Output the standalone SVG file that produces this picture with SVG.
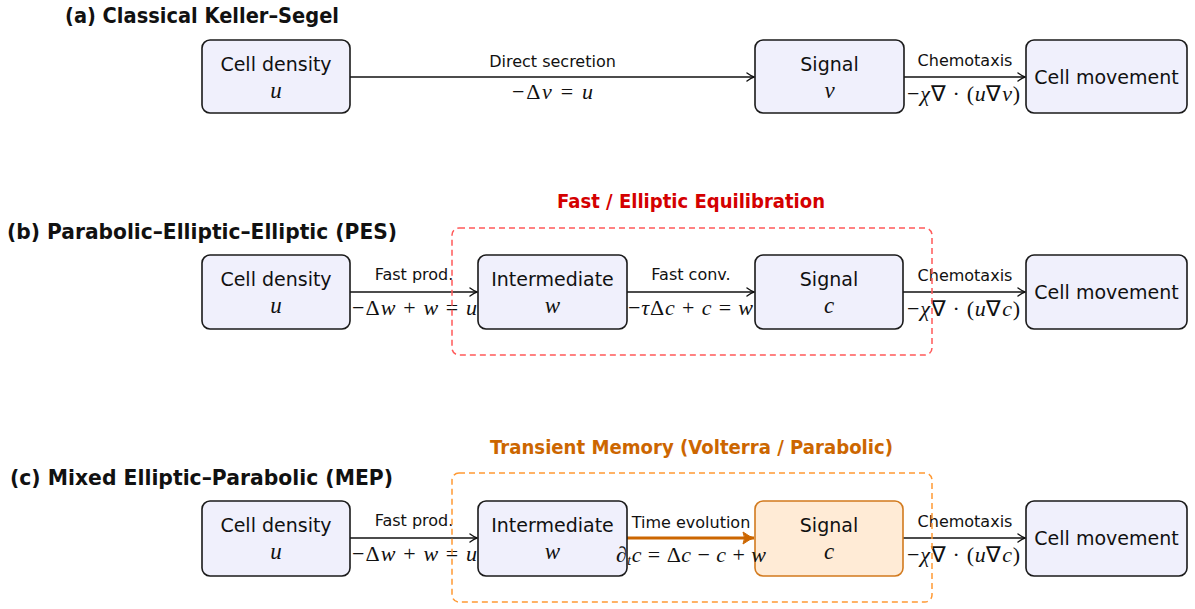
<svg xmlns="http://www.w3.org/2000/svg" width="1195" height="609" viewBox="0 0 1195 609">
<defs>
<style>
.box{fill:#f0f0fc;stroke:#1a1a1a;stroke-width:1.6}
.obox{fill:#ffebd6;stroke:#d27a1e;stroke-width:1.6}
.nt{font-family:"DejaVu Sans",sans-serif;font-size:19px;fill:#111;text-anchor:middle}
.el{font-family:"DejaVu Sans",sans-serif;font-size:16px;fill:#111;text-anchor:middle}
.m{font-family:"Liberation Serif",serif;font-size:22px;fill:#111;text-anchor:middle}
.i{font-style:italic}
.ti{font-family:"DejaVu Sans",sans-serif;font-size:21.5px;font-weight:bold;fill:#111}
.edge{stroke:#111;stroke-width:1.5;fill:none}
.oedge{stroke:#cc6600;stroke-width:3;fill:none}
</style>
<marker id="ah" markerUnits="userSpaceOnUse" markerWidth="12" markerHeight="12" viewBox="-10 -6 12 12" refX="0" refY="0" orient="auto">
<path d="M-7,-4 Q-2.5,-0.8 0,0 Q-2.5,0.8 -7,4" fill="none" stroke="#111" stroke-width="1.4" stroke-linecap="round"/>
</marker>
<marker id="oah" markerUnits="userSpaceOnUse" markerWidth="16" markerHeight="16" viewBox="-14 -8 16 16" refX="0" refY="0" orient="auto">
<path d="M-11,-6 Q-4,-1 0,0 Q-4,1 -11,6 Q-8,0 -11,-6 Z" fill="#cc6600" stroke="#cc6600" stroke-width="1"/>
</marker>
</defs>
<rect width="1195" height="609" fill="#ffffff"/>

<!-- titles -->
<text class="ti" x="65" y="23" textLength="274" lengthAdjust="spacingAndGlyphs">(a) Classical Keller–Segel</text>
<text class="ti" x="7" y="239" textLength="390" lengthAdjust="spacingAndGlyphs">(b) Parabolic–Elliptic–Elliptic (PES)</text>
<text class="ti" x="10" y="485" textLength="383" lengthAdjust="spacingAndGlyphs">(c) Mixed Elliptic–Parabolic (MEP)</text>
<text class="ti" x="557" y="208" textLength="268" lengthAdjust="spacingAndGlyphs" style="fill:#d40000;font-size:19px">Fast / Elliptic Equilibration</text>
<text class="ti" x="490" y="454" textLength="403" lengthAdjust="spacingAndGlyphs" style="fill:#cc6600;font-size:19px">Transient Memory (Volterra / Parabolic)</text>

<!-- connectors -->
<g id="connectors">
<line class="edge" x1="350" y1="77" x2="754" y2="77" marker-end="url(#ah)"/>
<line class="edge" x1="904" y1="77" x2="1025" y2="77" marker-end="url(#ah)"/>
<line class="edge" x1="350" y1="292" x2="477" y2="292" marker-end="url(#ah)"/>
<line class="edge" x1="627" y1="292" x2="754" y2="292" marker-end="url(#ah)"/>
<line class="edge" x1="903" y1="292" x2="1025" y2="292" marker-end="url(#ah)"/>
<line class="edge" x1="350" y1="538" x2="477" y2="538" marker-end="url(#ah)"/>
<line class="oedge" x1="627" y1="538" x2="754" y2="538" marker-end="url(#oah)"/>
<line class="edge" x1="903" y1="538" x2="1025" y2="538" marker-end="url(#ah)"/>
</g>

<!-- row a -->
<g id="a-cell">
<rect class="box" x="202" y="40" width="148" height="73" rx="8"/>
<text class="nt" x="276" y="71">Cell density</text>
<text class="m i" x="276" y="98" style="font-size:23px">u</text>
</g>
<g id="a-signal">
<rect class="box" x="755" y="40" width="149" height="73" rx="8"/>
<text class="nt" x="829.5" y="71">Signal</text>
<text class="m i" x="829.5" y="98" style="font-size:23px">v</text>
</g>
<g id="a-move">
<rect class="box" x="1026" y="40" width="161" height="73" rx="8"/>
<text class="nt" x="1106.5" y="84">Cell movement</text>
</g>

<!-- row b -->
<g id="b-cell">
<rect class="box" x="202" y="255" width="148" height="74" rx="8"/>
<text class="nt" x="276" y="286">Cell density</text>
<text class="m i" x="276" y="313" style="font-size:23px">u</text>
</g>
<g id="b-inter">
<rect class="box" x="478" y="255" width="149" height="74" rx="8"/>
<text class="nt" x="552.5" y="286">Intermediate</text>
<text class="m i" x="552.5" y="313" style="font-size:23px">w</text>
</g>
<g id="b-signal">
<rect class="box" x="755" y="255" width="148" height="74" rx="8"/>
<text class="nt" x="829" y="286">Signal</text>
<text class="m i" x="829" y="313" style="font-size:23px">c</text>
</g>
<g id="b-move">
<rect class="box" x="1026" y="255" width="161" height="74" rx="8"/>
<text class="nt" x="1106.5" y="299">Cell movement</text>
</g>

<!-- row c -->
<g id="c-cell">
<rect class="box" x="202" y="501" width="148" height="75" rx="8"/>
<text class="nt" x="276" y="532">Cell density</text>
<text class="m i" x="276" y="559" style="font-size:23px">u</text>
</g>
<g id="c-inter">
<rect class="box" x="478" y="501" width="149" height="75" rx="8"/>
<text class="nt" x="552.5" y="532">Intermediate</text>
<text class="m i" x="552.5" y="559" style="font-size:23px">w</text>
</g>
<g id="c-signal">
<rect class="obox" x="755" y="501" width="148" height="75" rx="8"/>
<text class="nt" x="829" y="532">Signal</text>
<text class="m i" x="829" y="559" style="font-size:23px">c</text>
</g>
<g id="c-move">
<rect class="box" x="1026" y="501" width="161" height="75" rx="8"/>
<text class="nt" x="1106.5" y="545">Cell movement</text>
</g>

<!-- connector labels -->
<g id="connector-labels">
<text class="el" x="552.5" y="67">Direct secretion</text>
<text class="m" x="552.5" y="99" textLength="81" lengthAdjust="spacing">−Δ<tspan class="i">v</tspan> = <tspan class="i">u</tspan></text>
<text class="el" x="965" y="66">Chemotaxis</text>
<text class="m" x="963.5" y="101" textLength="113" lengthAdjust="spacing">−<tspan class="i">χ</tspan>∇ · (<tspan class="i">u</tspan>∇<tspan class="i">v</tspan>)</text>

<text class="el" x="414" y="280">Fast prod.</text>
<text class="m" x="414.5" y="315" textLength="125" lengthAdjust="spacing">−Δ<tspan class="i">w</tspan> + <tspan class="i">w</tspan> = <tspan class="i">u</tspan></text>
<text class="el" x="691" y="280">Fast conv.</text>
<text class="m" x="690.5" y="315" textLength="125" lengthAdjust="spacing">−<tspan class="i">τ</tspan>Δ<tspan class="i">c</tspan> + <tspan class="i">c</tspan> = <tspan class="i">w</tspan></text>
<text class="el" x="965" y="281">Chemotaxis</text>
<text class="m" x="963.5" y="316" textLength="113" lengthAdjust="spacing">−<tspan class="i">χ</tspan>∇ · (<tspan class="i">u</tspan>∇<tspan class="i">c</tspan>)</text>

<text class="el" x="414" y="526">Fast prod.</text>
<text class="m" x="414.5" y="561" textLength="125" lengthAdjust="spacing">−Δ<tspan class="i">w</tspan> + <tspan class="i">w</tspan> = <tspan class="i">u</tspan></text>
<text class="el" x="691" y="528">Time evolution</text>
<text class="m" x="691" y="562" textLength="150" lengthAdjust="spacing"><tspan class="i">∂</tspan><tspan class="i" font-size="14" dy="3">t</tspan><tspan class="i" dy="-3">c</tspan> = Δ<tspan class="i">c</tspan> − <tspan class="i">c</tspan> + <tspan class="i">w</tspan></text>
<text class="el" x="965" y="527">Chemotaxis</text>
<text class="m" x="963.5" y="562" textLength="113" lengthAdjust="spacing">−<tspan class="i">χ</tspan>∇ · (<tspan class="i">u</tspan>∇<tspan class="i">c</tspan>)</text>
</g>

<!-- dashed regions -->
<g id="fast-region">
<rect x="452" y="228" width="480" height="127" rx="7" fill="none" stroke="#ff5a5a" stroke-width="1.5" stroke-dasharray="6,4"/>
</g>
<g id="memory-region">
<rect x="452" y="473" width="480" height="129" rx="7" fill="none" stroke="#ff9933" stroke-width="1.5" stroke-dasharray="6,4"/>
</g>
</svg>
